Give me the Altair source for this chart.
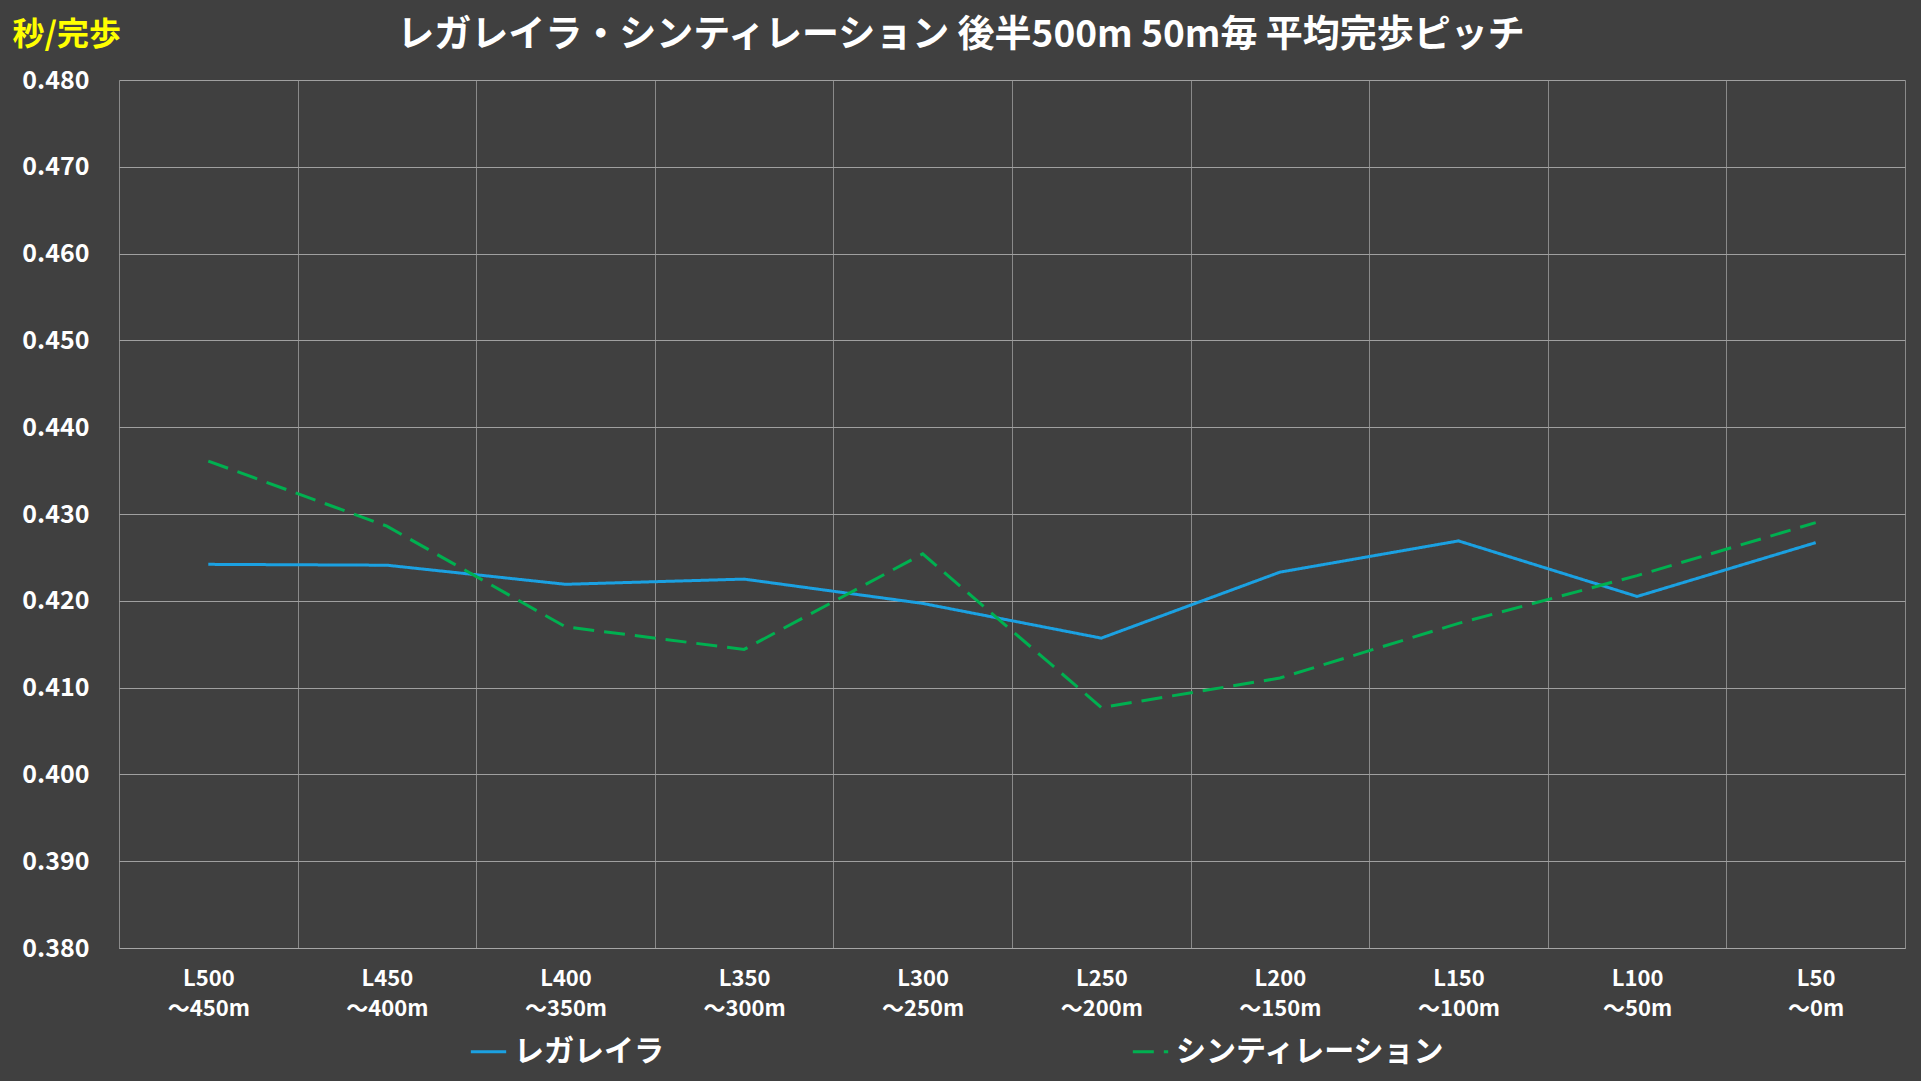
import altair as alt
import pandas as pd

# ---- data ----
segments_top = ["L500", "L450", "L400", "L350", "L300", "L250", "L200", "L150", "L100", "L50"]
segments_bottom = ["～450m", "～400m", "～350m", "～300m", "～250m", "～200m", "～150m", "～100m", "～50m", "～0m"]
series_names = ["レガレイラ", "シンティレーション"]
regaleira = [0.4242, 0.4241, 0.4219, 0.4225, 0.4197, 0.4157, 0.4233, 0.4269, 0.4205, 0.4267]
scintillation = [0.4361, 0.4286, 0.4170, 0.4144, 0.4254, 0.4077, 0.4111, 0.4174, 0.4229, 0.4290]
y_ticks = [0.38, 0.39, 0.40, 0.41, 0.42, 0.43, 0.44, 0.45, 0.46, 0.47, 0.48]

title_text = "レガレイラ・シンティレーション 後半500m 50m毎 平均完歩ピッチ"
unit_text = "秒/完歩"

seg = [f"{a} {b}" for a, b in zip(segments_top, segments_bottom)]
rows = []
for name, vals in zip(series_names, [regaleira, scintillation]):
    for s, v in zip(seg, vals):
        rows.append({"区間": s, "系列": name, "ピッチ": v})
df = pd.DataFrame(rows)

FONT = "Noto Sans CJK JP"

legend = alt.Legend(
    title=None, orient="none", legendX=350, legendY=952, direction="horizontal",
    symbolType="stroke", symbolSize=1250, symbolStrokeWidth=3,
    labelFont=FONT, labelFontSize=30, labelFontWeight="bold", labelColor="white",
    labelOffset=6, labelLimit=600, columnPadding=462,
)

chart = alt.Chart(df).mark_line(strokeWidth=3).encode(
    x=alt.X(
        "区間:N", sort=seg, bandPosition=0.5,
        scale=alt.Scale(type="band", paddingInner=0, paddingOuter=0),
        axis=alt.Axis(
            title=None, labelExpr="split(datum.label, ' ')", tickBand="extent",
            grid=True, gridColor="#8a8a8a", gridWidth=1, ticks=False,
            domain=True, domainColor="#a6a6a6", domainWidth=1,
            labelAngle=0, labelFont=FONT, labelFontSize=22, labelFontWeight="bold",
            labelColor="white", labelPadding=20, labelLineHeight=30,
        ),
    ),
    y=alt.Y(
        "ピッチ:Q",
        scale=alt.Scale(domain=[0.38, 0.48], nice=False, zero=False),
        axis=alt.Axis(
            values=y_ticks, format=".3f", title=unit_text, titleAngle=0,
            titleX=-107, titleY=-46, titleAlign="left", titleBaseline="middle",
            titleColor="#FFFF00", titleFont=FONT, titleFontSize=32, titleFontWeight="bold",
            grid=True, gridColor="#a0a0a0", gridWidth=1, domain=False, ticks=False,
            labelFont=FONT, labelFontSize=25, labelFontWeight="bold", labelColor="white",
            labelPadding=30,
        ),
    ),
    color=alt.Color("系列:N", scale=alt.Scale(domain=series_names, range=["#1BA1E2", "#00B050"]), legend=legend),
    strokeDash=alt.StrokeDash("系列:N", scale=alt.Scale(domain=series_names, range=[[1, 0], [21, 10]]), legend=legend),
).properties(
    width=1786,
    height=868,
    autosize=alt.AutoSizeParams(type="none"),
    padding={"left": 119, "top": 80, "right": 16, "bottom": 133},
    background="#404040",
    title=alt.Title(
        title_text, font=FONT, fontSize=37, fontWeight="bold", color="white",
        anchor="middle", dx=-51, dy=47, offset=10,
    ),
).configure_view(stroke=None)

chart.save("out.html", embed_options={"renderer": "svg", "actions": False})
